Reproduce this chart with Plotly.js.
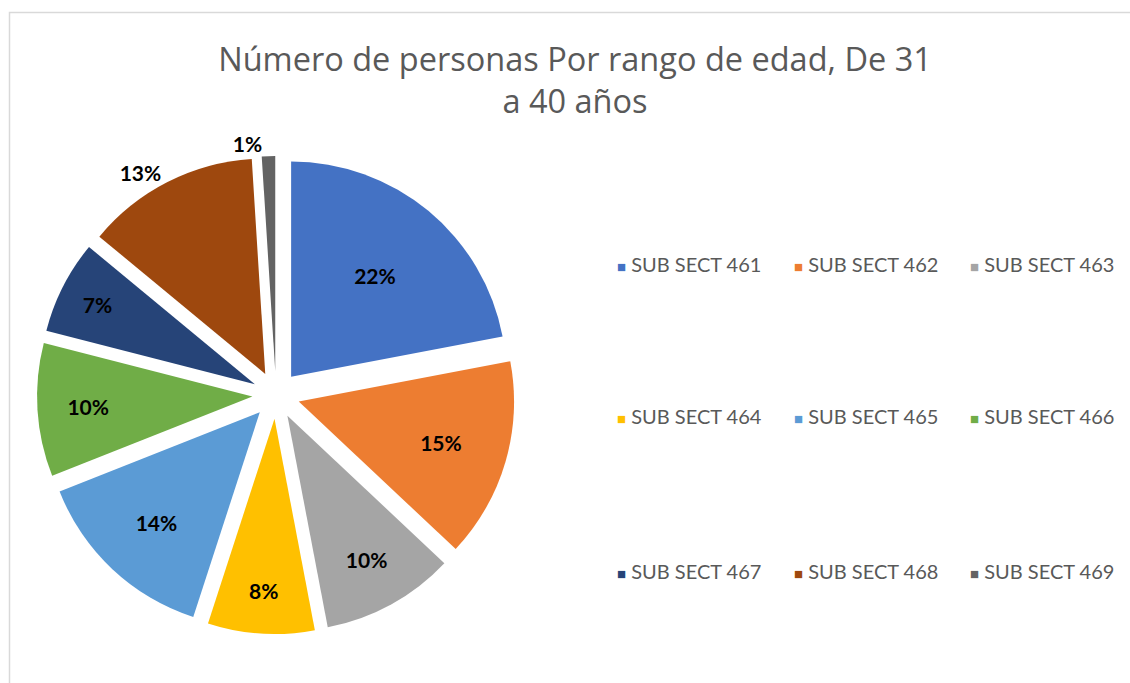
<!DOCTYPE html>
<html>
<head>
<meta charset="utf-8">
<script src="https://cdn.plot.ly/plotly-3.0.1.min.js"></script>
<style>
  html, body { margin: 0; padding: 0; background: #ffffff; }
  #chart { width: 1130px; height: 683px; }
</style>
</head>
<body>
<div id="chart"></div>
<script>
const categories = ["SUB SECT 461", "SUB SECT 462", "SUB SECT 463", "SUB SECT 464", "SUB SECT 465", "SUB SECT 466", "SUB SECT 467", "SUB SECT 468", "SUB SECT 469"];
const shares = [22, 15, 10, 8, 14, 10, 7, 13, 1];
const colors = ["#4472C4", "#ED7D31", "#A5A5A5", "#FFC000", "#5B9BD5", "#70AD47", "#264478", "#9E480E", "#636363"];
const labelPositions = ["inside", "inside", "inside", "inside", "inside", "inside", "inside", "outside", "outside"];
const titleText = "Número de personas Por rango de edad, De 31<br>a 40 años";

const W = 1130, H = 683;
const FONT = "Lato, 'Open Sans', sans-serif";

const trace = {
  type: "pie",
  labels: categories,
  values: shares,
  sort: false,
  direction: "clockwise",
  rotation: 0,
  pull: shares.map(() => 0.11),
  marker: { colors: colors, line: { width: 0 } },
  texttemplate: "%{percent:.0%}",
  textposition: labelPositions,
  insidetextorientation: "horizontal",
  textfont: { family: FONT, size: 21, color: "#000000", weight: "bold" },
  hoverinfo: "label+percent",
  showlegend: false,
  domain: { x: [37 / W, 515 / W], y: [1 - 634 / H, 1 - 156 / H] }
};

// Legend drawn as text entries in a 3 x 3 grid
const colX = [615, 792, 968];
const rowY = [264, 416, 571];
const annotations = [];
categories.forEach((c, i) => {
  const col = i % 3, row = Math.floor(i / 3);
  annotations.push({
    xref: "paper", yref: "paper",
    x: colX[col] / W, y: 1 - rowY[row] / H,
    xanchor: "left", yanchor: "middle",
    showarrow: false,
    text: "<span style='color:" + colors[i] + ";font-size:15px'>■</span> " + c,
    font: { family: FONT, size: 20, color: "#595959" }
  });
});

const layout = {
  width: W, height: H,
  margin: { l: 0, r: 0, t: 0, b: 0 },
  paper_bgcolor: "#ffffff",
  title: {
    text: titleText,
    font: { family: "'Open Sans', sans-serif", size: 32.5, color: "#595959" },
    x: 575 / W, xanchor: "center",
    y: 1 - 71 / H, yanchor: "top"
  },
  annotations: annotations,
  shapes: [{
    type: "rect", xref: "paper", yref: "paper",
    x0: 9.5 / W, x1: 1.02, y0: -0.02, y1: 1 - 12.5 / H,
    line: { color: "#d9d9d9", width: 1.5 }, fillcolor: "rgba(0,0,0,0)", layer: "below"
  }]
};

Plotly.newPlot("chart", [trace], layout, { displayModeBar: false, responsive: false });
</script>
</body>
</html>
